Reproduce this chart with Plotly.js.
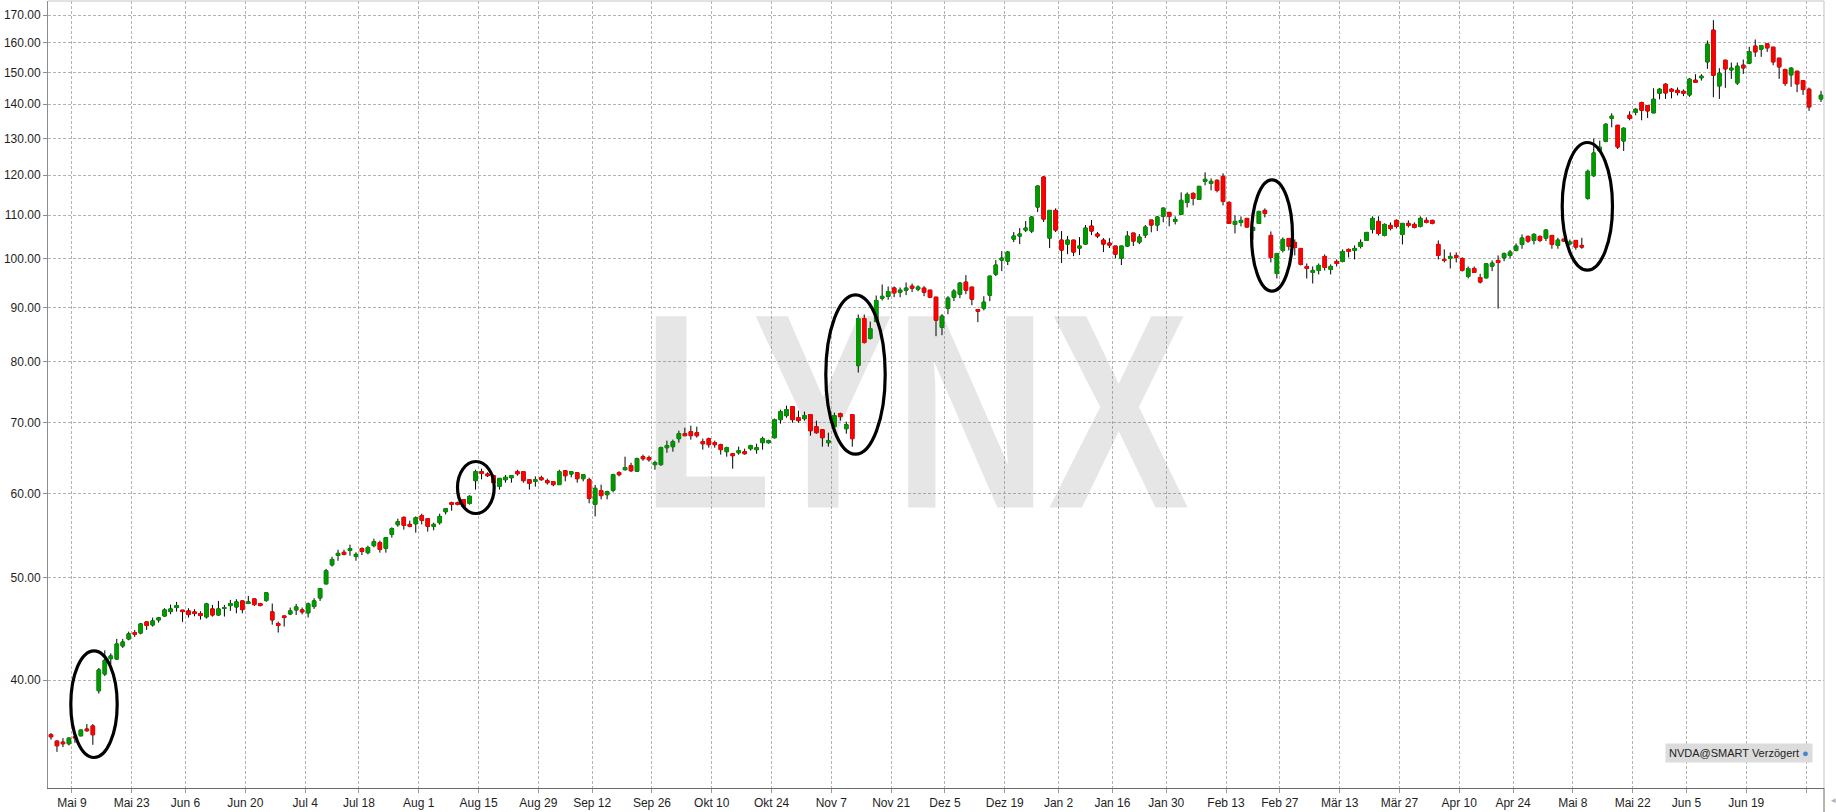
<!DOCTYPE html>
<html>
<head>
<meta charset="utf-8">
<script src="https://cdn.plot.ly/plotly-3.0.1.min.js"></script>
<style>html,body{margin:0;padding:0;background:#fff;}#chart{width:1836px;height:812px;}</style>
</head>
<body>
<div id="chart"></div>
<script>
// Trading days shown (NVDA, May 2016 – Jul 2017)
const dates = [
"2016-05-03","2016-05-04","2016-05-05","2016-05-06","2016-05-09","2016-05-10","2016-05-11","2016-05-12","2016-05-13","2016-05-16",
"2016-05-17","2016-05-18","2016-05-19","2016-05-20","2016-05-23","2016-05-24","2016-05-25","2016-05-26","2016-05-27","2016-05-31",
"2016-06-01","2016-06-02","2016-06-03","2016-06-06","2016-06-07","2016-06-08","2016-06-09","2016-06-10","2016-06-13","2016-06-14",
"2016-06-15","2016-06-16","2016-06-17","2016-06-20","2016-06-21","2016-06-22","2016-06-23","2016-06-24","2016-06-27","2016-06-28",
"2016-06-29","2016-06-30","2016-07-01","2016-07-05","2016-07-06","2016-07-07","2016-07-08","2016-07-11","2016-07-12","2016-07-13",
"2016-07-14","2016-07-15","2016-07-18","2016-07-19","2016-07-20","2016-07-21","2016-07-22","2016-07-25","2016-07-26","2016-07-27",
"2016-07-28","2016-07-29","2016-08-01","2016-08-02","2016-08-03","2016-08-04","2016-08-05","2016-08-08","2016-08-09","2016-08-10",
"2016-08-11","2016-08-12","2016-08-15","2016-08-16","2016-08-17","2016-08-18","2016-08-19","2016-08-22","2016-08-23","2016-08-24",
"2016-08-25","2016-08-26","2016-08-29","2016-08-30","2016-08-31","2016-09-01","2016-09-02","2016-09-06","2016-09-07","2016-09-08",
"2016-09-09","2016-09-12","2016-09-13","2016-09-14","2016-09-15","2016-09-16","2016-09-19","2016-09-20","2016-09-21","2016-09-22",
"2016-09-23","2016-09-26","2016-09-27","2016-09-28","2016-09-29","2016-09-30","2016-10-03","2016-10-04","2016-10-05","2016-10-06",
"2016-10-07","2016-10-10","2016-10-11","2016-10-12","2016-10-13","2016-10-14","2016-10-17","2016-10-18","2016-10-19","2016-10-20",
"2016-10-21","2016-10-24","2016-10-25","2016-10-26","2016-10-27","2016-10-28","2016-10-31","2016-11-01","2016-11-02","2016-11-03",
"2016-11-04","2016-11-07","2016-11-08","2016-11-09","2016-11-10","2016-11-11","2016-11-14","2016-11-15","2016-11-16","2016-11-17",
"2016-11-18","2016-11-21","2016-11-22","2016-11-23","2016-11-25","2016-11-28","2016-11-29","2016-11-30","2016-12-01","2016-12-02",
"2016-12-05","2016-12-06","2016-12-07","2016-12-08","2016-12-09","2016-12-12","2016-12-13","2016-12-14","2016-12-15","2016-12-16",
"2016-12-19","2016-12-20","2016-12-21","2016-12-22","2016-12-23","2016-12-27","2016-12-28","2016-12-29","2016-12-30","2017-01-03",
"2017-01-04","2017-01-05","2017-01-06","2017-01-09","2017-01-10","2017-01-11","2017-01-12","2017-01-13","2017-01-17","2017-01-18",
"2017-01-19","2017-01-20","2017-01-23","2017-01-24","2017-01-25","2017-01-26","2017-01-27","2017-01-30","2017-01-31","2017-02-01",
"2017-02-02","2017-02-03","2017-02-06","2017-02-07","2017-02-08","2017-02-09","2017-02-10","2017-02-13","2017-02-14","2017-02-15",
"2017-02-16","2017-02-17","2017-02-21","2017-02-22","2017-02-23","2017-02-24","2017-02-27","2017-02-28","2017-03-01","2017-03-02",
"2017-03-03","2017-03-06","2017-03-07","2017-03-08","2017-03-09","2017-03-10","2017-03-13","2017-03-14","2017-03-15","2017-03-16",
"2017-03-17","2017-03-20","2017-03-21","2017-03-22","2017-03-23","2017-03-24","2017-03-27","2017-03-28","2017-03-29","2017-03-30",
"2017-03-31","2017-04-03","2017-04-04","2017-04-05","2017-04-06","2017-04-07","2017-04-10","2017-04-11","2017-04-12","2017-04-13",
"2017-04-17","2017-04-18","2017-04-19","2017-04-20","2017-04-21","2017-04-24","2017-04-25","2017-04-26","2017-04-27","2017-04-28",
"2017-05-01","2017-05-02","2017-05-03","2017-05-04","2017-05-05","2017-05-08","2017-05-09","2017-05-10","2017-05-11","2017-05-12",
"2017-05-15","2017-05-16","2017-05-17","2017-05-18","2017-05-19","2017-05-22","2017-05-23","2017-05-24","2017-05-25","2017-05-26",
"2017-05-30","2017-05-31","2017-06-01","2017-06-02","2017-06-05","2017-06-06","2017-06-07","2017-06-08","2017-06-09","2017-06-12",
"2017-06-13","2017-06-14","2017-06-15","2017-06-16","2017-06-19","2017-06-20","2017-06-21","2017-06-22","2017-06-23","2017-06-26",
"2017-06-27","2017-06-28","2017-06-29","2017-06-30","2017-07-03","2017-07-05"
];

const openP = [
35.51,35.02,34.94,34.82,35.35,35.43,35.95,36.19,39.08,40.53,
41.90,41.87,43.08,43.74,44.35,44.31,45.39,45.09,45.59,45.98,
46.42,46.83,46.56,46.49,46.39,46.22,45.89,46.69,46.08,46.76,
47.03,46.89,47.51,47.24,47.72,47.24,47.55,46.39,45.22,45.98,
46.19,46.59,46.59,46.29,46.93,47.82,49.31,51.39,52.46,52.81,
53.04,52.35,53.23,52.77,53.58,53.93,53.27,54.92,56.08,56.98,
56.12,56.20,57.19,56.82,55.88,56.33,57.69,58.84,58.84,59.22,
58.75,61.72,62.94,62.62,62.39,60.97,61.85,62.12,62.94,62.94,
61.85,61.63,62.12,61.72,61.59,61.19,63.07,62.62,62.80,61.99,
61.85,58.62,60.39,59.87,60.44,62.80,63.21,63.76,63.00,65.03,
64.88,63.91,63.91,66.31,66.46,67.63,68.36,68.66,68.51,67.19,
67.63,67.04,66.75,65.74,65.45,65.59,65.74,66.17,66.03,67.04,
67.04,67.77,70.48,71.10,72.51,70.79,70.64,71.26,69.41,68.96,
67.04,69.41,71.41,69.11,71.26,79.28,87.83,84.09,87.25,91.80,
92.17,93.86,93.02,93.42,94.24,93.63,93.83,93.42,92.01,86.19,
89.83,92.01,92.61,95.06,94.04,89.57,89.83,92.41,96.73,99.74,
99.52,104.40,105.09,106.47,106.24,111.94,119.50,104.63,111.13,104.17,
103.27,104.17,102.38,103.27,107.40,105.55,104.17,103.50,102.83,100.17,
102.83,105.78,103.72,105.32,108.82,107.64,109.69,110.65,108.50,110.17,
113.08,115.32,113.83,118.38,117.86,118.64,119.67,113.08,107.79,108.26,
109.21,106.39,108.03,111.13,105.24,96.88,101.86,104.55,103.65,102.30,
98.37,97.09,97.52,100.53,97.73,99.45,99.45,102.08,101.86,102.75,
104.10,106.63,108.50,105.24,107.56,108.74,105.47,108.03,107.79,107.32,
108.74,108.74,103.20,99.88,100.10,100.75,100.10,96.25,97.94,96.03,
95.97,98.43,99.66,100.24,100.75,101.86,103.20,105.01,104.10,105.01,
104.63,105.24,102.97,104.40,103.35,104.10,102.97,114.08,119.85,126.47,
129.16,135.79,133.74,129.25,136.69,137.58,140.51,139.59,137.40,143.39,
146.23,144.65,144.30,144.00,142.87,147.51,148.30,153.53,164.49,145.70,
154.08,150.87,146.66,152.41,153.08,158.85,157.82,159.66,158.51,154.76,
150.98,149.24,150.43,147.41,144.65,141.63
];
const highP = [
35.64,35.07,35.25,35.30,35.53,35.92,36.34,36.34,41.06,42.67,
42.39,43.74,43.74,44.44,44.60,45.29,45.42,45.82,45.89,46.76,
47.13,47.41,46.60,46.76,46.66,46.45,47.31,47.10,47.51,47.10,
47.62,47.69,47.55,48.03,47.75,47.31,48.40,47.24,45.42,46.00,
46.83,47.20,46.83,47.34,47.79,48.88,50.94,52.31,53.11,53.11,
53.70,52.81,53.39,53.58,54.40,54.17,54.55,55.76,56.82,57.10,
56.57,57.10,57.44,56.85,56.33,57.44,58.10,58.96,58.96,59.25,
59.78,63.21,63.35,62.84,62.53,62.05,62.48,62.42,63.21,62.97,
61.88,62.30,62.39,61.99,61.62,63.21,63.10,62.97,62.83,62.56,
62.12,61.14,61.19,60.39,62.66,63.00,65.03,64.18,64.90,65.31,
65.17,64.46,66.46,67.33,67.48,68.81,69.26,69.56,69.41,67.63,
67.78,67.33,66.89,66.46,65.48,66.46,66.17,66.75,66.89,67.92,
67.48,70.64,72.04,72.67,72.55,71.88,71.72,71.30,70.33,69.00,
68.51,71.57,71.57,70.18,71.30,88.60,88.60,87.25,92.34,94.58,
94.17,94.17,93.97,95.00,94.79,94.40,94.24,93.45,92.05,88.66,
92.20,93.63,95.06,96.53,94.07,89.60,92.20,96.35,99.74,101.71,
101.71,106.01,106.93,108.58,109.77,117.30,119.76,111.20,111.62,106.24,
105.09,104.20,104.86,107.64,108.82,106.01,104.63,104.63,102.86,102.86,
106.24,105.80,105.55,107.64,108.85,109.77,111.86,110.70,109.69,115.57,
115.57,115.57,117.15,120.72,119.15,118.90,120.46,113.33,109.93,109.69,
109.25,107.32,110.95,111.62,106.16,101.25,104.78,104.60,104.33,102.35,
99.01,98.37,99.01,100.97,98.80,99.88,102.08,102.30,102.97,104.33,
105.95,109.69,109.69,108.03,108.26,108.97,108.05,108.74,108.26,109.69,
109.45,108.90,104.10,102.08,101.41,101.41,100.32,98.37,98.37,96.81,
99.00,99.66,100.75,101.41,101.93,103.42,105.47,105.24,105.77,105.24,
106.70,105.26,104.71,104.45,104.30,104.13,104.71,121.43,129.91,129.35,
134.32,137.28,133.80,133.15,137.88,138.79,140.81,139.62,144.96,145.00,
146.55,145.00,145.20,144.60,148.26,149.45,149.45,160.83,168.11,151.42,
154.10,153.30,153.30,154.30,158.63,161.18,159.10,159.70,158.55,154.80,
151.31,151.75,150.45,147.45,145.17,144.13
];
const lowP = [
35.13,34.21,34.57,34.69,34.89,35.38,35.74,34.74,38.83,40.35,
41.39,41.80,42.89,43.61,43.93,44.18,44.60,44.93,45.32,45.89,
46.15,46.42,45.39,45.82,45.95,45.62,45.72,45.92,46.00,45.92,
46.49,46.25,46.25,47.20,47.00,46.96,47.41,45.12,44.35,44.93,
46.08,46.08,46.15,45.82,46.69,47.51,49.24,51.20,51.85,52.46,
52.42,51.85,52.50,52.58,53.39,52.77,52.77,54.52,55.84,55.48,
55.76,55.12,56.12,55.24,55.40,56.08,57.35,57.81,58.49,58.24,
58.58,60.53,61.90,62.21,61.37,60.53,61.45,61.45,62.39,61.45,
60.53,60.92,61.72,61.19,60.97,61.15,61.63,62.17,61.45,61.63,
58.75,57.10,59.26,59.26,60.17,62.30,63.10,62.90,62.90,64.46,
64.32,63.21,63.76,65.59,65.74,67.04,68.00,67.48,67.78,66.03,
66.31,66.31,65.31,65.03,63.35,65.31,65.31,65.88,65.45,66.03,
66.89,67.63,69.87,70.79,70.02,70.02,70.33,68.07,68.36,66.46,
66.46,69.38,70.33,68.36,66.46,78.09,83.17,83.90,87.20,91.35,
91.50,92.00,92.00,92.41,93.02,93.20,92.20,91.81,84.52,84.70,
88.66,91.21,91.81,92.61,90.41,87.14,89.40,91.21,96.32,97.37,
98.66,103.72,103.27,106.01,105.78,110.73,108.34,102.38,106.01,99.09,
101.04,100.61,100.83,103.20,105.32,104.63,101.49,102.38,100.17,98.66,
102.60,102.83,103.27,104.63,105.95,106.24,108.28,107.35,107.79,110.10,
111.86,112.35,113.80,117.35,116.08,115.57,112.35,107.90,105.70,107.32,
107.10,104.33,108.00,109.45,99.23,95.83,101.41,101.86,100.75,98.58,
95.83,94.79,96.67,97.52,96.67,98.37,99.23,100.32,99.88,102.30,
104.05,105.70,105.24,105.01,106.39,106.86,103.20,107.09,106.86,107.09,
108.03,107.80,99.88,99.23,97.94,99.23,97.30,95.83,97.00,94.80,
95.80,97.37,89.77,99.51,100.17,101.64,102.23,103.57,103.20,103.72,
103.95,102.23,102.23,103.90,102.97,102.01,102.23,113.74,119.50,126.19,
128.88,133.15,127.02,126.47,135.20,136.70,135.20,135.89,137.35,141.50,
141.63,141.80,142.70,142.50,142.30,146.85,147.40,151.20,142.15,141.63,
145.07,147.94,146.02,149.56,152.75,155.21,155.21,156.91,152.40,147.94,
145.70,145.39,143.71,142.87,137.99,140.71
];
const closeP = [
35.35,34.67,34.82,35.25,35.28,35.87,35.82,35.51,40.88,41.75,
42.15,43.26,43.45,44.22,44.18,45.19,45.03,45.49,45.79,46.59,
46.69,47.03,46.42,46.12,46.22,46.02,47.20,46.08,46.69,46.80,
47.24,47.41,46.62,47.41,47.13,47.03,48.35,45.59,45.03,45.82,
46.49,46.89,46.39,47.20,47.51,48.81,50.72,52.00,52.69,52.58,
53.23,52.58,52.92,53.35,54.05,53.15,54.52,55.60,56.45,56.00,
55.88,56.94,56.61,55.88,56.12,57.10,58.07,58.62,58.62,58.36,
59.65,62.94,62.71,62.39,61.45,62.03,62.17,62.39,62.66,61.72,
61.37,61.85,61.85,61.45,61.19,62.94,62.39,62.94,61.99,62.53,
59.39,60.70,59.74,60.26,62.53,62.53,63.49,63.07,64.74,64.74,
64.60,64.18,66.31,66.60,67.19,68.36,68.07,68.07,68.07,66.89,
66.75,66.75,66.03,66.31,65.17,65.88,65.45,66.60,66.31,67.63,
67.33,70.48,71.72,72.04,70.48,70.33,71.10,68.81,68.51,67.77,
67.33,71.10,70.95,69.71,67.63,87.83,83.36,85.93,91.35,92.17,
93.15,92.88,93.42,93.83,93.83,94.04,93.02,92.01,87.52,88.28,
91.81,93.22,94.86,93.42,91.61,89.25,91.01,96.32,98.66,100.17,
101.49,105.09,105.55,106.93,109.53,117.18,109.05,111.13,106.47,101.93,
104.17,101.49,102.83,106.93,106.24,105.09,103.27,103.05,101.04,102.83,
105.09,103.95,104.86,107.17,107.64,109.53,111.66,109.69,108.97,113.58,
115.07,114.07,117.10,118.90,118.38,116.08,113.33,108.03,108.50,108.74,
107.17,107.09,110.89,110.41,100.32,101.19,104.33,102.75,102.52,98.80,
97.94,97.52,98.58,98.16,98.37,99.01,101.63,101.63,102.30,103.65,
105.93,109.21,105.70,107.79,106.86,107.32,108.03,107.56,107.09,109.21,
108.26,108.03,100.75,99.66,100.53,100.32,97.52,97.94,97.09,95.10,
98.93,99.08,99.22,101.12,101.49,102.82,104.63,103.95,105.47,104.10,
106.47,103.20,104.17,103.95,103.72,102.60,102.60,120.99,125.91,127.48,
134.03,136.39,127.57,132.87,135.79,138.48,138.18,137.99,141.53,144.65,
143.49,144.02,143.60,143.40,147.84,146.87,148.80,159.55,149.13,149.78,
151.20,151.42,152.08,151.53,157.02,156.91,159.08,158.28,153.53,151.86,
146.45,151.42,146.34,144.54,139.19,142.77
];

// Market holidays (removed from the time axis)
const holidays = ["2016-05-30","2016-07-04","2016-09-05","2016-11-24","2016-12-26",
                  "2017-01-02","2017-01-16","2017-02-20","2017-04-14","2017-05-29"];

// x-axis labels (placed on the first trading day of each label date)
const xTickVals = ["2016-05-09","2016-05-23","2016-06-06","2016-06-20","2016-07-05","2016-07-18","2016-08-01","2016-08-15",
  "2016-08-29","2016-09-12","2016-09-26","2016-10-10","2016-10-24","2016-11-07","2016-11-21","2016-12-05","2016-12-19",
  "2017-01-03","2017-01-17","2017-01-30","2017-02-13","2017-02-27","2017-03-13","2017-03-27","2017-04-10","2017-04-24",
  "2017-05-08","2017-05-22","2017-06-05","2017-06-19","2017-07-03"];
const xTickText = ["Mai 9","Mai 23","Jun 6","Jun 20","Jul 4","Jul 18","Aug 1","Aug 15","Aug 29","Sep 12","Sep 26",
  "Okt 10","Okt 24","Nov 7","Nov 21","Dez 5","Dez 19","Jan 2","Jan 16","Jan 30","Feb 13","Feb 27","Mär 13","Mär 27",
  "Apr 10","Apr 24","Mai 8","Mai 22","Jun 5","Jun 19",""];
const yTickVals = [40,50,60,70,80,90,100,110,120,130,140,150,160,170];

const GREEN = '#009a00', RED = '#ff0000';
const xs = dates.map(d => d + ' 12:00');
const bodyHigh = openP.map((o, i) => Math.max(o, closeP[i]));
const bodyLow = openP.map((o, i) => Math.min(o, closeP[i]));

// watermark lives on the (hidden) base subplot, so it sits under the candles
const watermark = {
  type: 'scatter', mode: 'text', xaxis: 'x', yaxis: 'y',
  x: [0.4885], y: [0.4447], text: ['<b>LYNX</b>'],
  textfont: {size: 278, color: 'rgba(120,120,120,0.19)', family: 'Liberation Sans, Arial, sans-serif'},
  textposition: 'middle center', hoverinfo: 'skip', showlegend: false, cliponaxis: false
};
// black wicks (full high-low range), covered by the coloured bodies drawn next
const wicks = {
  type: 'candlestick', xaxis: 'x2', yaxis: 'y2',
  x: xs, open: openP, close: closeP, high: highP, low: lowP,
  increasing: {line: {color: '#000000', width: 1}, fillcolor: '#000000'},
  decreasing: {line: {color: '#000000', width: 1}, fillcolor: '#000000'},
  whiskerwidth: 0, hoverinfo: 'skip', showlegend: false
};
const bodies = {
  type: 'candlestick', xaxis: 'x2', yaxis: 'y2',
  x: xs, open: openP, close: closeP, high: bodyHigh, low: bodyLow,
  increasing: {line: {color: GREEN, width: 1}, fillcolor: GREEN},
  decreasing: {line: {color: RED, width: 1}, fillcolor: RED},
  whiskerwidth: 0, hoverinfo: 'skip', showlegend: false
};

function ellipse(x0, x1, y0, y1) {
  return {type: 'circle', xref: 'paper', yref: 'paper', x0: x0, x1: x1, y0: y0, y1: y1,
          line: {color: '#000000', width: 3.2}, layer: 'above'};
}

const layout = {
  width: 1836, height: 812,
  margin: {l: 48, r: 12, t: 1, b: 24, pad: 0},
  paper_bgcolor: '#ffffff', plot_bgcolor: '#ffffff',
  showlegend: false, hovermode: false, dragmode: false,
  boxgap: 0.17,
  font: {family: 'Liberation Sans, Arial, sans-serif', size: 12, color: '#1e1e1e'},
  xaxis: {range: [0, 1], visible: false, fixedrange: true, domain: [0, 1]},
  yaxis: {range: [0, 1], visible: false, fixedrange: true, domain: [0, 1]},
  xaxis2: {
    overlaying: 'x', anchor: 'y2', side: 'bottom',
    type: 'date',
    range: ['2016-05-03', '2017-07-06'],
    rangebreaks: [{bounds: ['sat', 'mon']}, {values: holidays}],
    rangeslider: {visible: false},
    tickmode: 'array', tickvals: xTickVals, ticktext: xTickText,
    showgrid: true, gridcolor: '#b2b2b2', gridwidth: 1, griddash: '3px,2px',
    showline: true, linecolor: '#6a6a6a', linewidth: 1,
    ticks: 'outside', ticklen: 4, tickcolor: '#9a9a9a', tickwidth: 1,
    tickfont: {size: 12, color: '#1e1e1e'},
    zeroline: false, fixedrange: true
  },
  yaxis2: {
    overlaying: 'y', anchor: 'x2', side: 'left',
    type: 'log', range: [1.5, 2.2437],
    tickmode: 'array', tickvals: yTickVals, ticktext: yTickVals.map(v => v.toFixed(2)),
    showgrid: true, gridcolor: '#b2b2b2', gridwidth: 1, griddash: '3px,2px',
    showline: true, linecolor: '#8c8c8c', linewidth: 1,
    ticks: 'outside', ticklen: 4, tickcolor: '#8c8c8c',
    tickfont: {size: 12, color: '#1e1e1e'},
    zeroline: false, fixedrange: true
  },
  shapes: [
    {type: 'line', xref: 'paper', yref: 'paper', x0: 0, x1: 1, y0: 1, y1: 1, line: {color: '#c4c4c4', width: 1}},
    {type: 'line', xref: 'paper', yref: 'paper', x0: 1, x1: 1, y0: 0, y1: 1, line: {color: '#c4c4c4', width: 1}},
    {type: 'line', xref: 'paper', yref: 'paper', x0: 1, x1: 1, y0: -0.031, y1: 0, line: {color: '#6a6a6a', width: 1}},
    ellipse(0.01284, 0.03896, 0.03875, 0.17433),
    ellipse(0.23057, 0.25124, 0.34879, 0.41487),
    ellipse(0.43795, 0.47140, 0.42414, 0.62668),
    ellipse(0.67765, 0.70073, 0.63126, 0.77281),
    ellipse(0.85259, 0.88091, 0.65794, 0.82021)
  ],
  annotations: [
    {xref: 'paper', yref: 'paper', x: 0.9938, y: 0.0445, xanchor: 'right', yanchor: 'middle',
     text: 'NVDA@SMART Verzögert <span style="color:#4a86c8">●</span>', showarrow: false,
     bgcolor: '#dcdcdc', borderpad: 3, font: {size: 11, color: '#222222', family: 'Liberation Sans, Arial, sans-serif'}},
    {xref: 'paper', yref: 'paper', x: 1.0055, y: -0.0152, xanchor: 'center', yanchor: 'middle',
     text: '◂', showarrow: false, font: {size: 9, color: '#b0b0b0'}}
  ]
};

Plotly.newPlot('chart', [watermark, wicks, bodies], layout, {displayModeBar: false, staticPlot: true}).then(function () {
  // condense the watermark lettering to the narrow logo proportions
  const t = document.querySelector('.scatterlayer .textpoint text');
  if (t) { t.setAttribute('textLength', '548'); t.setAttribute('lengthAdjust', 'spacingAndGlyphs'); }
});
</script>
</body>
</html>
